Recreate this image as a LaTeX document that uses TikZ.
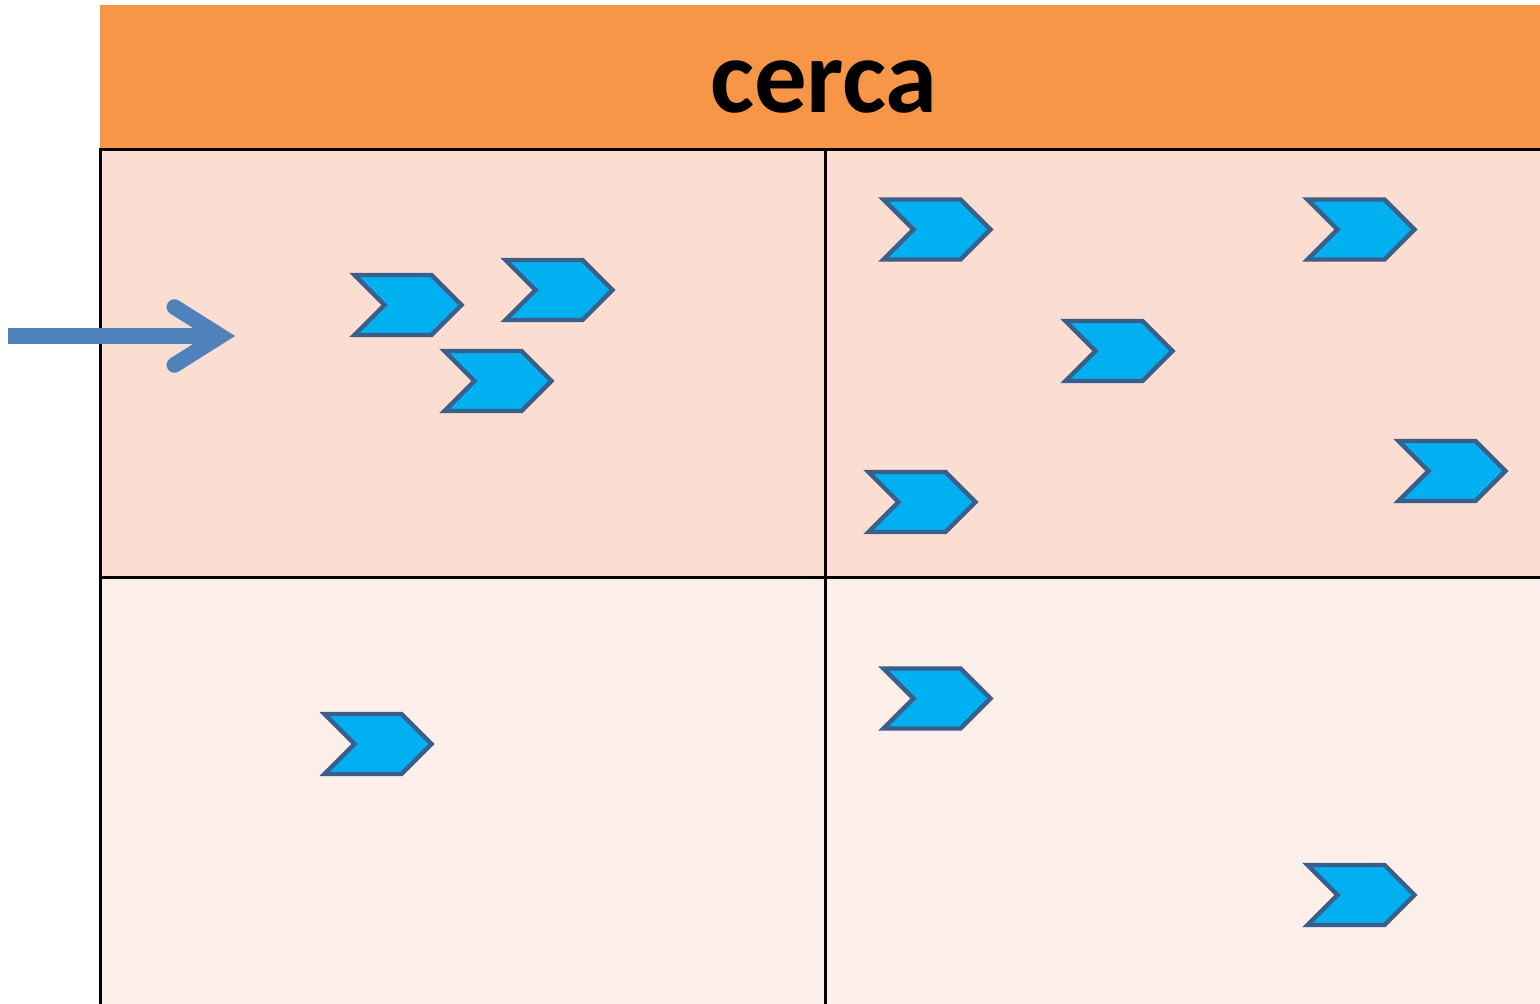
\documentclass[tikz,border=0pt]{standalone}
\usepackage{fontspec}
\setmainfont{Carlito}
\usetikzlibrary{arrows.meta,shapes.symbols}
\definecolor{hdr}{HTML}{F79646}
\definecolor{rowhi}{HTML}{FCDDD1}
\definecolor{rowlo}{HTML}{FCEEE9}
\definecolor{chev}{HTML}{00B0F0}
\definecolor{chevline}{HTML}{3A5F8B}
\definecolor{arrc}{HTML}{4F81BD}
\tikzset{
  chevron/.style={shape=signal,signal from=west,signal to=east,signal pointer angle=90,draw=chevline,fill=chev,line width=2.2pt,minimum width=53.5pt,minimum height=30pt,inner sep=0pt,outer sep=0pt},
  gridline/.style={line width=1.5pt,draw=black},
  arr/.style={-{Straight Barb[length=23pt,width=29pt,line cap=round,line join=miter]},line width=7.8pt,draw=arrc},
  ttl/.style={font=\fontsize{52.5}{52.5}\selectfont\bfseries,text=black,inner sep=0pt},
}
\begin{document}
\begin{tikzpicture}[x=0.5pt,y=-0.5pt]
\useasboundingbox (0,0) rectangle (1540,1004);
% header and cells
\fill[hdr] (100,5) rectangle (1540,150);
\fill[rowhi] (100,150) rectangle (1540,578);
\fill[rowlo] (100,578) rectangle (1540,1004);
\node[ttl,anchor=base] (title) at (824,113) {cerca};
\draw[gridline] (100,1004)--(100,150)--(1540,150);
\draw[gridline] (100,578)--(1540,578);
\draw[gridline] (825,150)--(825,1004);
% chevrons
\foreach \n/\x/\y in {1/408/305,2/559/290,3/498/381,4/937/229.5,5/1361/229.5,6/1119/351,7/922/502,8/1452/471,9/378/744,10/937/698.5,11/1361/895}
  {\node[chevron] (chev\n) at (\x,\y) {};}
% entry arrow
\coordinate (arrS) at (8,336);
\coordinate (arrE) at (235,336);
\draw[arr] (arrS) -- (arrE);
\end{tikzpicture}
\end{document}
